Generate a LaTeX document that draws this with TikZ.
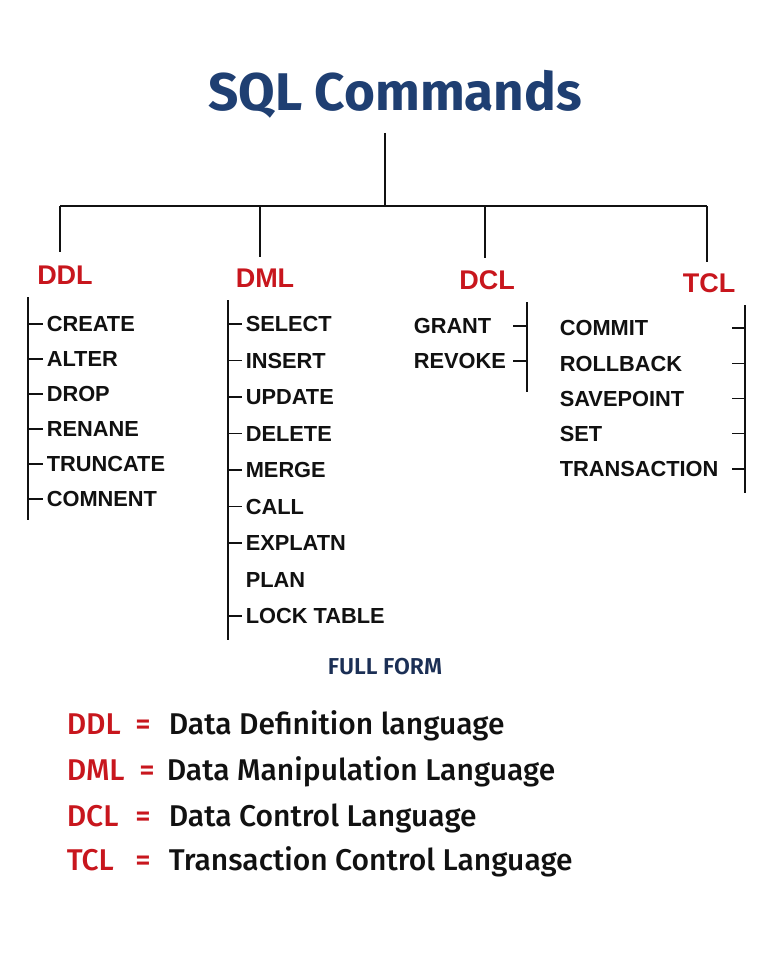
\documentclass[tikz,border=0pt]{standalone}
\usepackage{fontspec}
\setmainfont{Liberation Sans}
\newfontfamily\fira{Fira Sans}
\newfontfamily\firasb{Fira Sans SemiBold}
\newfontfamily\firam{Fira Sans Medium}
\definecolor{titleblue}{HTML}{1F3F72}
\definecolor{catred}{HTML}{C8161D}
\definecolor{navy}{HTML}{1B2F55}
\definecolor{ink}{HTML}{111111}
\begin{document}
\begin{tikzpicture}[x=1pt,y=-1pt,
  line width=1.6pt, draw=ink,
  title/.style={inner sep=0pt, font=\fira\bfseries\fontsize{53}{58}\selectfont, text=titleblue},
  cat/.style={inner sep=0pt, font=\bfseries\fontsize{27}{30}\selectfont, text=catred},
  item/.style={inner sep=0pt, anchor=west, text height=15.6pt, text depth=0pt,
     font=\bfseries\fontsize{21.8}{24}\selectfont, text=ink},
  ffhead/.style={inner sep=0pt, font=\firasb\fontsize{23}{26}\selectfont, text=navy},
  ffab/.style={inner sep=0pt, anchor=west, text height=20.7pt, text depth=0pt,
     font=\firam\fontsize{30}{34}\selectfont, text=catred},
  ffeq/.style={inner sep=0pt, text height=20.7pt, text depth=0pt,
     font=\firam\fontsize{30}{34}\selectfont, text=catred},
  ffdef/.style={inner sep=0pt, anchor=west, text height=20.7pt, text depth=0pt,
     font=\firam\fontsize{30}{34}\selectfont, text=ink},
  tick/.style={line width=1.4pt}
]
\useasboundingbox[fill=white] (0,0) rectangle (768,960);

% title and tree
\node[title] (root) at (395,94) {SQL Commands};
\coordinate (t0) at (385,133);
\coordinate (j) at (385,206);
\coordinate (hl) at (60,206);
\coordinate (hr) at (707,206);
\coordinate (h2) at (260,206);
\coordinate (h3) at (485,206);
\draw (t0) -- (j);
\draw (hl) -- (hr);

\node[cat] (ddl) at (65,275) {DDL};
\node[cat] (dml) at (265,278) {DML};
\node[cat] (dcl) at (487,280) {DCL};
\node[cat] (tcl) at (709,283) {TCL};
\coordinate (e1) at (60,252);
\coordinate (e2) at (260,257);
\coordinate (e3) at (485,258);
\coordinate (e4) at (707,262);
\draw (hl) -- (e1);
\draw (h2) -- (e2);
\draw (h3) -- (e3);
\draw (hr) -- (e4);

% DDL list
\coordinate (b1t) at (28,297);
\coordinate (b1b) at (28,520);
\draw (b1t) -- (b1b);
\foreach \t [count=\i] in {CREATE,ALTER,DROP,RENANE,TRUNCATE,COMNENT}{
  \node[item] (ddl\i) at (46,{324+35*(\i-1)}) {\t};
  \draw[tick] (b1t |- ddl\i.west) -- ([xshift=-3pt]ddl\i.west);
}

% DML list
\coordinate (b2t) at (228,300);
\coordinate (b2b) at (228,640);
\draw (b2t) -- (b2b);
\foreach \t [count=\i] in {SELECT,INSERT,UPDATE,DELETE,MERGE,CALL,EXPLATN,PLAN,LOCK TABLE}{
  \node[item] (dml\i) at (245,{324+36.5*(\i-1)}) {\t};
}
\foreach \i in {1,2,3,4,5,6,7,9}{
  \draw[tick] (b2t |- dml\i.west) -- ([xshift=-3pt]dml\i.west);
}

% DCL list
\coordinate (b3t) at (527,302);
\coordinate (b3b) at (527,392);
\draw (b3t) -- (b3b);
\node[item] (dcl1) at (413,326) {GRANT};
\node[item] (dcl2) at (413,361) {REVOKE};
\foreach \i in {1,2}{
  \draw[tick] (b3t |- dcl\i.west) -- ++(-14,0);
}

% TCL list
\coordinate (b4t) at (745,305);
\coordinate (b4b) at (745,493);
\draw (b4t) -- (b4b);
\foreach \t [count=\i] in {COMMIT,ROLLBACK,SAVEPOINT,SET,TRANSACTION}{
  \node[item] (tcl\i) at (559,{328+35.2*(\i-1)}) {\t};
  \draw[tick] (b4t |- tcl\i.west) -- ++(-13,0);
}

% full form
\node[ffhead] (ff) at (385,667) {FULL FORM};
\node[ffab] (a1) at (66,724) {DDL};
\node[ffeq] (q1) at (143,724) {=};
\node[ffdef] (d1) at (168,724) {Data Definition language};
\node[ffab] (a2) at (66,770) {DML};
\node[ffeq] (q2) at (147,770) {=};
\node[ffdef] (d2) at (166,770) {Data Manipulation Language};
\node[ffab] (a3) at (66,816) {DCL};
\node[ffeq] (q3) at (143,816) {=};
\node[ffdef] (d3) at (168,816) {Data Control Language};
\node[ffab] (a4) at (66,860) {TCL};
\node[ffeq] (q4) at (143,860) {=};
\node[ffdef] (d4) at (168,860) {Transaction Control Language};
\end{tikzpicture}
\end{document}
